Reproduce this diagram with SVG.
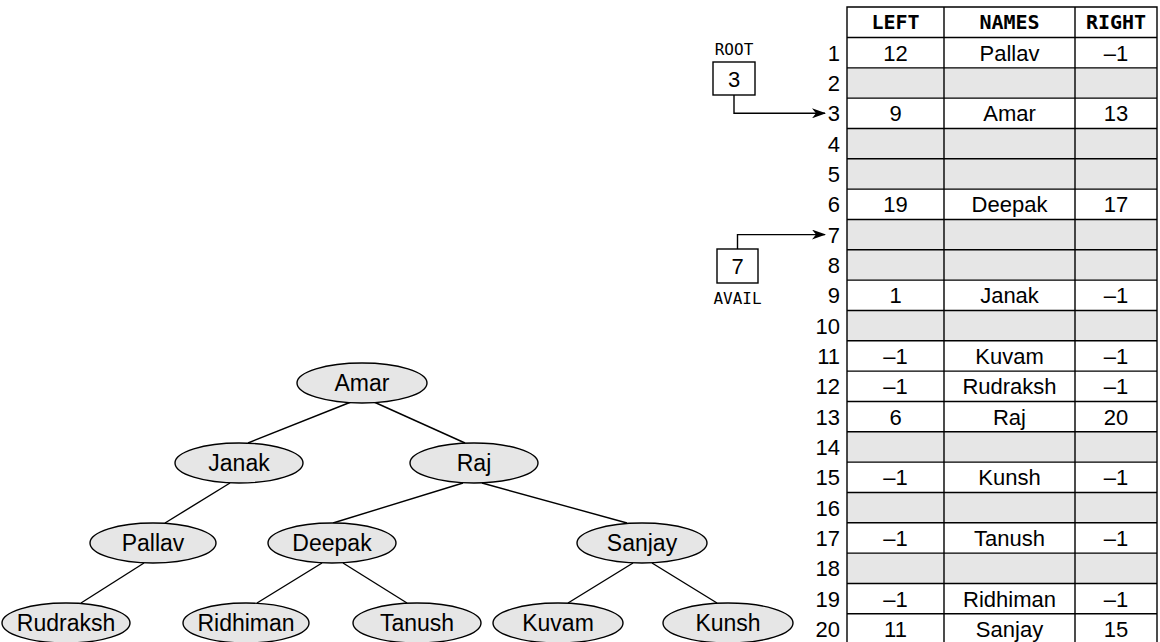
<svg xmlns="http://www.w3.org/2000/svg" width="1160" height="642" viewBox="0 0 1160 642">
<style>
.t{font-family:"Liberation Sans",Arial,sans-serif;font-size:22px;fill:#000;text-anchor:middle}
.n{font-family:"Liberation Sans",Arial,sans-serif;font-size:22px;fill:#000;text-anchor:end}
.h{font-family:"DejaVu Sans Mono",monospace;font-weight:bold;font-size:20px;fill:#000;text-anchor:middle}
.m{font-family:"DejaVu Sans Mono",monospace;font-size:16px;fill:#000;text-anchor:middle}
.tn{font-family:"Liberation Sans",Arial,sans-serif;font-size:23px;fill:#000;text-anchor:middle}
.g{fill:#e6e6e6;stroke:none}
.ln{stroke:#000;stroke-width:1.4;fill:none}
.el{fill:#e6e6e6;stroke:#000;stroke-width:1.4}
.bx{fill:#fff;stroke:#000;stroke-width:1.4}
.e{stroke:#000;stroke-width:1.4;fill:none}
</style>
<defs>
<marker id="ah" markerWidth="14" markerHeight="10" refX="13" refY="5" orient="auto" markerUnits="userSpaceOnUse">
<path d="M0,0 L14,5 L0,10 L4,5 Z" fill="#000"/>
</marker>
</defs>
<rect width="1160" height="642" fill="#fff"/>

<g id="table">
<rect class="g" x="847" y="67.83" width="310" height="30.33"/>
<rect class="g" x="847" y="128.49" width="310" height="60.66"/>
<rect class="g" x="847" y="219.48" width="310" height="60.66"/>
<rect class="g" x="847" y="310.47" width="310" height="30.33"/>
<rect class="g" x="847" y="431.79" width="310" height="30.33"/>
<rect class="g" x="847" y="492.45" width="310" height="30.33"/>
<rect class="g" x="847" y="553.11" width="310" height="30.33"/>
<path class="ln" d="M847,7 H1157 V644.1 H847 Z M944,7 V644.1 M1075,7 V644.1
M847,37.5 H1157 M847,67.83 H1157 M847,98.16 H1157 M847,128.49 H1157 M847,158.82 H1157 M847,189.15 H1157
M847,219.48 H1157 M847,249.81 H1157 M847,280.14 H1157 M847,310.47 H1157 M847,340.8 H1157 M847,371.13 H1157
M847,401.46 H1157 M847,431.79 H1157 M847,462.12 H1157 M847,492.45 H1157 M847,522.78 H1157 M847,553.11 H1157
M847,583.44 H1157 M847,613.77 H1157"/>
<text class="h" x="895.5" y="29">LEFT</text>
<text class="h" x="1009.5" y="29">NAMES</text>
<text class="h" x="1116" y="29">RIGHT</text>
<g id="rownums">
<text class="n" x="840" y="60.7">1</text>
<text class="n" x="840" y="91">2</text>
<text class="n" x="840" y="121.3">3</text>
<text class="n" x="840" y="151.7">4</text>
<text class="n" x="840" y="182">5</text>
<text class="n" x="840" y="212.3">6</text>
<text class="n" x="840" y="242.6">7</text>
<text class="n" x="840" y="273">8</text>
<text class="n" x="840" y="303.3">9</text>
<text class="n" x="840" y="333.6">10</text>
<text class="n" x="840" y="364">11</text>
<text class="n" x="840" y="394.3">12</text>
<text class="n" x="840" y="424.6">13</text>
<text class="n" x="840" y="455">14</text>
<text class="n" x="840" y="485.3">15</text>
<text class="n" x="840" y="515.6">16</text>
<text class="n" x="840" y="546">17</text>
<text class="n" x="840" y="576.3">18</text>
<text class="n" x="840" y="606.6">19</text>
<text class="n" x="840" y="637">20</text>
</g>
<g id="cells">
<text class="t" x="895.5" y="60.7">12</text><text class="t" x="1009.5" y="60.7">Pallav</text><text class="t" x="1116" y="60.7">–1</text>
<text class="t" x="895.5" y="121.3">9</text><text class="t" x="1009.5" y="121.3">Amar</text><text class="t" x="1116" y="121.3">13</text>
<text class="t" x="895.5" y="212.3">19</text><text class="t" x="1009.5" y="212.3">Deepak</text><text class="t" x="1116" y="212.3">17</text>
<text class="t" x="895.5" y="303.3">1</text><text class="t" x="1009.5" y="303.3">Janak</text><text class="t" x="1116" y="303.3">–1</text>
<text class="t" x="895.5" y="364">–1</text><text class="t" x="1009.5" y="364">Kuvam</text><text class="t" x="1116" y="364">–1</text>
<text class="t" x="895.5" y="394.3">–1</text><text class="t" x="1009.5" y="394.3">Rudraksh</text><text class="t" x="1116" y="394.3">–1</text>
<text class="t" x="895.5" y="424.6">6</text><text class="t" x="1009.5" y="424.6">Raj</text><text class="t" x="1116" y="424.6">20</text>
<text class="t" x="895.5" y="485.3">–1</text><text class="t" x="1009.5" y="485.3">Kunsh</text><text class="t" x="1116" y="485.3">–1</text>
<text class="t" x="895.5" y="546">–1</text><text class="t" x="1009.5" y="546">Tanush</text><text class="t" x="1116" y="546">–1</text>
<text class="t" x="895.5" y="606.6">–1</text><text class="t" x="1009.5" y="606.6">Ridhiman</text><text class="t" x="1116" y="606.6">–1</text>
<text class="t" x="895.5" y="637">11</text><text class="t" x="1009.5" y="637">Sanjay</text><text class="t" x="1116" y="637">15</text>
</g>
</g>

<g id="root">
<text class="m" x="734" y="55">ROOT</text>
<rect class="bx" x="713" y="62" width="42" height="33"/>
<text class="t" x="734" y="86.5">3</text>
</g>
<g id="avail">
<rect class="bx" x="717" y="249" width="41" height="34"/>
<text class="t" x="737.5" y="274">7</text>
<text class="m" x="737.5" y="304">AVAIL</text>
</g>

<g id="connectors">
<path class="e" d="M734,95 V113.3 H825" marker-end="url(#ah)"/>
<path class="e" d="M737.5,249 V234.6 H825" marker-end="url(#ah)"/>
<line class="e" x1="351" y1="402" x2="248" y2="443"/>
<line class="e" x1="374" y1="402" x2="465" y2="443"/>
<line class="e" x1="230" y1="483" x2="165" y2="523"/>
<line class="e" x1="463" y1="483" x2="333" y2="523"/>
<line class="e" x1="482" y1="483" x2="627" y2="523"/>
<line class="e" x1="144" y1="563" x2="81" y2="603"/>
<line class="e" x1="322" y1="563" x2="257" y2="603"/>
<line class="e" x1="343" y1="563" x2="407" y2="603"/>
<line class="e" x1="633" y1="563" x2="568" y2="603"/>
<line class="e" x1="652" y1="563" x2="717" y2="603"/>
</g>

<g id="n-amar"><ellipse class="el" cx="362" cy="383" rx="65" ry="20"/><text class="tn" x="362" y="391">Amar</text></g>
<g id="n-janak"><ellipse class="el" cx="239" cy="463" rx="64" ry="20"/><text class="tn" x="239" y="471">Janak</text></g>
<g id="n-raj"><ellipse class="el" cx="474" cy="463" rx="64" ry="20"/><text class="tn" x="474" y="471">Raj</text></g>
<g id="n-pallav"><ellipse class="el" cx="153" cy="543" rx="63" ry="20"/><text class="tn" x="153" y="551">Pallav</text></g>
<g id="n-deepak"><ellipse class="el" cx="332" cy="543" rx="64" ry="20"/><text class="tn" x="332" y="551">Deepak</text></g>
<g id="n-sanjay"><ellipse class="el" cx="642" cy="543" rx="65" ry="20"/><text class="tn" x="642" y="551">Sanjay</text></g>
<g id="n-rudraksh"><ellipse class="el" cx="66" cy="623" rx="64" ry="20"/><text class="tn" x="66" y="631">Rudraksh</text></g>
<g id="n-ridhiman"><ellipse class="el" cx="246" cy="623" rx="63" ry="20"/><text class="tn" x="246" y="631">Ridhiman</text></g>
<g id="n-tanush"><ellipse class="el" cx="417" cy="623" rx="64" ry="20"/><text class="tn" x="417" y="631">Tanush</text></g>
<g id="n-kuvam"><ellipse class="el" cx="558" cy="623" rx="65" ry="20"/><text class="tn" x="558" y="631">Kuvam</text></g>
<g id="n-kunsh"><ellipse class="el" cx="728" cy="623" rx="65" ry="20"/><text class="tn" x="728" y="631">Kunsh</text></g>
</svg>
